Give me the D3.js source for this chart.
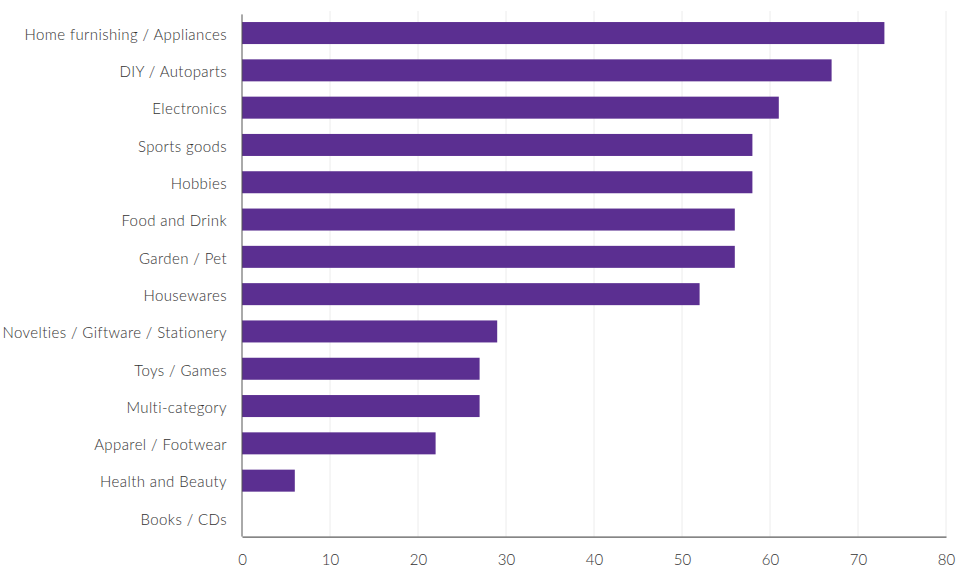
<!DOCTYPE html>
<html>
<head>
<meta charset="utf-8">
<script src="https://cdn.jsdelivr.net/npm/d3@7"></script>
<style>
  body { margin: 0; background: #fff; }
  svg { font-family: Lato, "Open Sans", sans-serif; }
  text { fill: #333; font-weight: 300; }
  .y-axis text { letter-spacing: 0.4px; }
</style>
</head>
<body>
<svg id="chart" width="958" height="569"></svg>
<script>
const categories = [
  "Home furnishing / Appliances",
  "DIY / Autoparts",
  "Electronics",
  "Sports goods",
  "Hobbies",
  "Food and Drink",
  "Garden / Pet",
  "Housewares",
  "Novelties / Giftware / Stationery",
  "Toys / Games",
  "Multi-category",
  "Apparel / Footwear",
  "Health and Beauty",
  "Books / CDs",
];
const values = [73, 67, 61, 58, 58, 56, 56, 52, 29, 27, 27, 22, 6, 0];
const xTicks = [0, 10, 20, 30, 40, 50, 60, 70, 80];

const svg = d3.select("#chart");
const plot = { left: 242, right: 946, top: 14.4, bottom: 536.6 };

/** scales */
const x = d3.scaleLinear().domain([0, 80]).range([plot.left, plot.right]);
const y = d3.scaleBand().domain(categories).range([plot.top, plot.bottom]).paddingInner(0.41).paddingOuter(0.205);

/** gridlines */
svg.append("g")
  .selectAll("line")
  .data(xTicks.slice(1))
  .join("line")
  .attr("x1", (d) => x(d))
  .attr("x2", (d) => x(d))
  .attr("y1", 11)
  .attr("y2", plot.bottom)
  .attr("stroke", "#ececec")
  .attr("stroke-width", 1);

/** bars */
svg.append("g")
  .selectAll("rect")
  .data(values)
  .join("rect")
  .attr("x", x(0))
  .attr("y", (d, i) => y(categories[i]))
  .attr("width", (d) => x(d) - x(0))
  .attr("height", y.bandwidth())
  .attr("fill", "#5b2f91");

/** y axis */
const yAxis = svg.append("g")
  .attr("class", "y-axis")
  .attr("transform", `translate(${plot.left},0)`)
  .call(d3.axisLeft(y).tickSize(0).tickPadding(15))
  .attr("font-family", null)
  .attr("font-size", 15);
yAxis.select(".domain").attr("stroke", "#555").attr("d", `M0,${plot.top}V${plot.bottom}`);
yAxis.selectAll("text").attr("dy", "0.45em");

/** x axis */
const xAxis = svg.append("g")
  .attr("transform", `translate(0,${plot.bottom})`)
  .call(d3.axisBottom(x).tickValues(xTicks).tickSize(0).tickPadding(18))
  .attr("font-family", null)
  .attr("font-size", 15);
xAxis.select(".domain").attr("stroke", "#333");
</script>
</body>
</html>
